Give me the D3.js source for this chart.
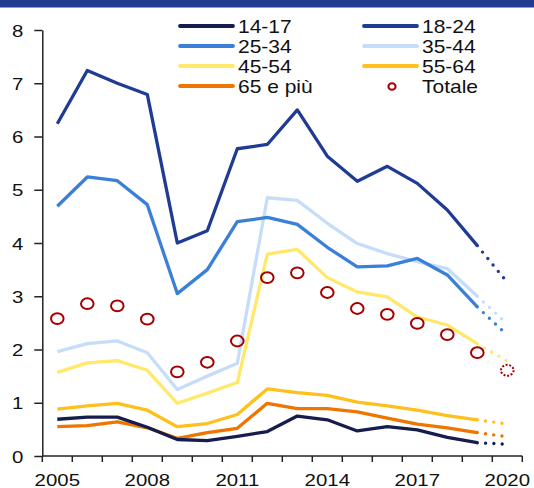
<!DOCTYPE html>
<html>
<head>
<meta charset="utf-8">
<script src="https://cdn.jsdelivr.net/npm/d3@7"></script>
<style>
  body { margin: 0; background: #fff; }
  svg { display: block; font-family: "Liberation Sans", Arial, sans-serif; }
</style>
</head>
<body>
<svg id="chart" width="534" height="488"></svg>
<script>
// anni (l'ultimo, 2020, è la stima tratteggiata)
const years = [2005, 2006, 2007, 2008, 2009, 2010, 2011, 2012, 2013, 2014, 2015, 2016, 2017, 2018, 2019, 2020];
const yearLabels = [2005, 2008, 2011, 2014, 2017, 2020];
const yTicks = [0, 1, 2, 3, 4, 5, 6, 7, 8];

const seriesNames = ["14-17", "18-24", "25-34", "35-44", "45-54", "55-64", "65 e più"];
const seriesColors = ["#161d4c", "#1f3b94", "#3a7fd8", "#c6ddfa", "#ffe86a", "#ffc01c", "#f07400"];

const s1417 = [0.69, 0.73, 0.73, 0.54, 0.31, 0.29, 0.37, 0.46, 0.75, 0.68, 0.47, 0.55, 0.49, 0.35, 0.25, 0.22];
const s1824 = [6.24, 7.24, 7.00, 6.79, 4.00, 4.23, 5.77, 5.85, 6.50, 5.63, 5.16, 5.44, 5.12, 4.62, 3.95, 3.26];
const s2534 = [4.69, 5.24, 5.17, 4.72, 3.05, 3.50, 4.40, 4.48, 4.35, 3.92, 3.55, 3.57, 3.71, 3.40, 2.80, 2.27];
const s3544 = [1.96, 2.11, 2.16, 1.94, 1.25, 1.50, 1.74, 4.85, 4.80, 4.37, 3.99, 3.80, 3.65, 3.52, 3.00, 2.48];
const s4554 = [1.57, 1.75, 1.79, 1.61, 0.99, 1.18, 1.38, 3.79, 3.88, 3.35, 3.08, 2.99, 2.61, 2.46, 2.11, 1.78];
const s5564 = [0.88, 0.94, 0.99, 0.86, 0.55, 0.61, 0.78, 1.26, 1.19, 1.14, 1.01, 0.94, 0.86, 0.76, 0.68, 0.60];
const s65 = [0.55, 0.57, 0.64, 0.53, 0.33, 0.44, 0.52, 0.99, 0.89, 0.89, 0.83, 0.71, 0.60, 0.53, 0.44, 0.36];
const totale = [2.58, 2.86, 2.82, 2.57, 1.58, 1.76, 2.16, 3.35, 3.44, 3.07, 2.77, 2.66, 2.49, 2.28, 1.94, 1.61];

const seriesValues = [s1417, s1824, s2534, s3544, s4554, s5564, s65];
const totaleColor = "#a30000";

const svg = d3.select("#chart");
const sx = 1.2; // testo leggermente allargato come nell'originale

// fascia in alto
svg.append("rect")
    .attr("x", 0).attr("y", 0)
    .attr("width", 534).attr("height", 7.5)
    .attr("fill", "#213b92");

// scale
const x = d3.scaleBand()
    .domain(years)
    .range([42.3, 522.3]);
const cx = d => x(d) + x.bandwidth() / 2;

const y = d3.scaleLinear()
    .domain([0, 8])
    .range([456, 30]);

// assi
const yAxis = svg.append("g")
    .attr("transform", "translate(42.3,0)")
    .call(d3.axisLeft(y).tickValues(yTicks).tickSize(8).tickSizeOuter(0));
yAxis.select(".domain").attr("stroke", "#222").attr("stroke-width", 1.5);
yAxis.selectAll(".tick line").attr("stroke", "#222").attr("stroke-width", 1.5);
yAxis.selectAll(".tick text")
    .attr("x", null).attr("dy", null)
    .attr("transform", `translate(-19,6.2) scale(${sx},1)`)
    .attr("text-anchor", "end")
    .style("font-size", "17px")
    .attr("fill", "#111");

const xAxis = svg.append("g")
    .attr("transform", "translate(0,456)")
    .call(d3.axisBottom(x).tickValues(yearLabels).tickSize(0).tickSizeOuter(0));
xAxis.select(".domain").remove();
xAxis.selectAll(".tick text")
    .attr("y", null).attr("dy", null)
    .attr("transform", `translate(0,29.5) scale(${sx},1)`)
    .style("font-size", "17px")
    .attr("fill", "#111");

// linea asse x e tacche ai bordi delle bande
svg.append("line")
    .attr("x1", x.range()[0]).attr("x2", x.range()[1])
    .attr("y1", y(0)).attr("y2", y(0))
    .attr("stroke", "#222").attr("stroke-width", 1.5);
svg.append("g").selectAll("line")
    .data(years.concat(["end"]))
    .join("line")
    .attr("x1", d => d === "end" ? x.range()[1] : x(d))
    .attr("x2", d => d === "end" ? x.range()[1] : x(d))
    .attr("y1", y(0)).attr("y2", y(0) + 6)
    .attr("stroke", "#222").attr("stroke-width", 1.5);

// linee: storico continuo, ultimo tratto punteggiato
const line = d3.line()
    .x(d => cx(d.year))
    .y(d => y(d.value));

const plot = svg.append("g");
const order = [6, 5, 4, 3, 2, 1, 0];
order.forEach(i => {
    const pts = years.map((yr, j) => ({ year: yr, value: seriesValues[i][j] }));
    const solid = pts.slice(0, pts.length - 1);
    const dotted = pts.slice(pts.length - 2);
    plot.append("path")
        .attr("d", line(solid))
        .attr("fill", "none")
        .attr("stroke", seriesColors[i])
        .attr("stroke-width", 3.3)
        .attr("stroke-linejoin", "round");
    plot.append("path")
        .attr("d", line(dotted))
        .attr("fill", "none")
        .attr("stroke", seriesColors[i])
        .attr("stroke-width", 3.4)
        .attr("stroke-linecap", "round")
        .attr("stroke-dasharray", "0 8.3");
});

// Totale: cerchi vuoti, l'ultimo tratteggiato
plot.selectAll(".tot")
    .data(years.map((yr, j) => ({ year: yr, value: totale[j] })))
    .join("ellipse")
    .attr("class", "tot")
    .attr("cx", d => cx(d.year))
    .attr("cy", d => y(d.value))
    .attr("rx", 6.3)
    .attr("ry", 5.4)
    .attr("fill", "none")
    .attr("stroke", totaleColor)
    .attr("stroke-width", 2)
    .attr("stroke-dasharray", d => d.year === 2020 ? "2 1.6" : null);

// legenda
const legendItems = seriesNames.map((n, i) => ({ name: n, color: seriesColors[i] }))
    .concat([{ name: "Totale", color: totaleColor, marker: true }]);
const legend = svg.append("g").selectAll("g")
    .data(legendItems)
    .join("g")
    .attr("transform", (d, i) => `translate(${i % 2 === 0 ? 180 : 364},${26 + Math.floor(i / 2) * 20})`);
legend.filter(d => !d.marker).append("line")
    .attr("x1", 0).attr("x2", 53)
    .attr("y1", 0).attr("y2", 0)
    .attr("stroke", d => d.color)
    .attr("stroke-width", 3.8)
    .attr("stroke-linecap", "round");
legend.filter(d => d.marker).append("ellipse")
    .attr("cx", 28).attr("cy", 0.5)
    .attr("rx", 3.6).attr("ry", 3.2)
    .attr("fill", "none")
    .attr("stroke", d => d.color)
    .attr("stroke-width", 2);
legend.append("text")
    .attr("transform", `translate(58,6.5) scale(${sx},1)`)
    .style("font-size", "17.5px")
    .attr("fill", "#111")
    .text(d => d.name);
</script>
</body>
</html>
